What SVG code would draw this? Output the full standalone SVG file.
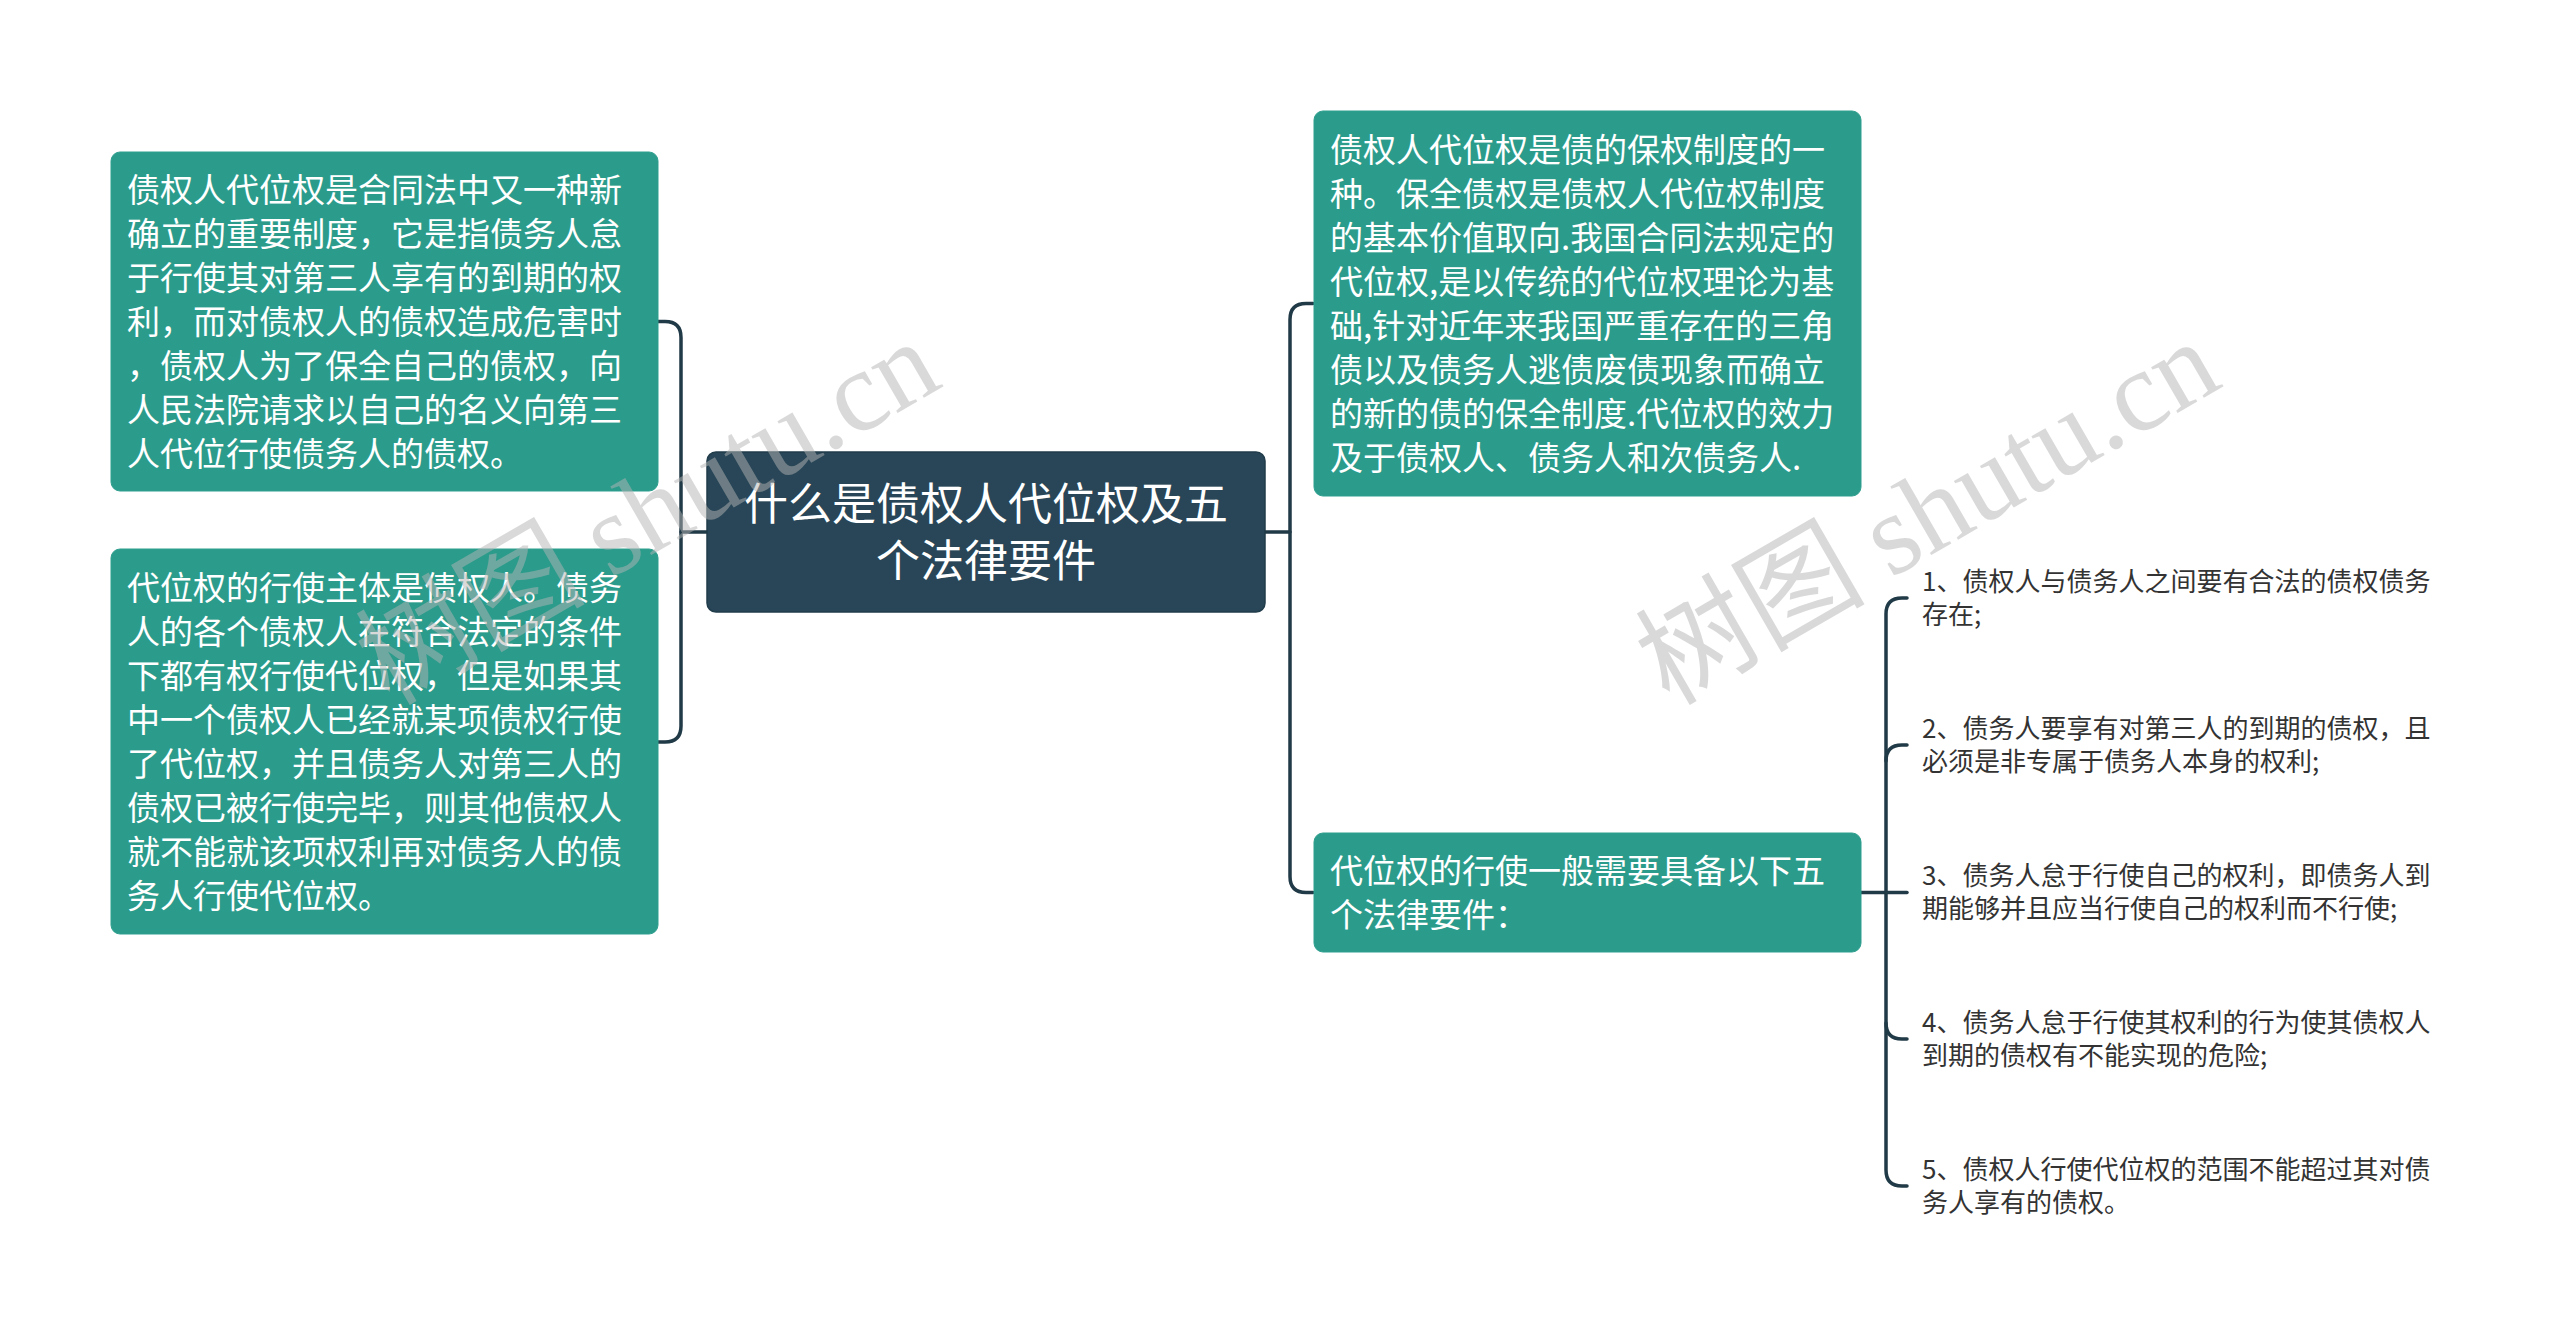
<svg xmlns="http://www.w3.org/2000/svg" width="2560" height="1343" viewBox="0 0 2560 1343">
<style>
.bg{fill:#ffffff}
.green{fill:#2b9c8c;stroke:#2f9f8f;stroke-width:1}
.root{fill:#284657;stroke:#213c4a;stroke-width:1.5}
.t{font-family:"Noto Sans CJK SC","Noto Sans",sans-serif;fill:#ffffff;font-size:33px}
.rt{font-family:"Noto Sans CJK SC","Noto Sans",sans-serif;fill:#ffffff;font-size:44px;text-anchor:middle}
.it{font-family:"Noto Sans CJK SC","Noto Sans",sans-serif;fill:#333333;font-size:26px}
.line{fill:none;stroke:#213a47;stroke-width:3.5;stroke-linecap:round;stroke-linejoin:round}
.wm{font-family:"Noto Sans CJK SC","Liberation Serif",serif;font-size:115px;fill:#b4b4b4;fill-opacity:0.5;text-anchor:middle}
.wm tspan.l{font-family:"Liberation Serif",serif}
</style>
<rect class="bg" x="0" y="0" width="2560" height="1343"/>

<g id="connectors">
  <path class="line" d="M707 532 H681"/>
  <path class="line" d="M658 321.5 H665 Q681 321.5 681 337.5 V726 Q681 742 665 742 H658"/>
  <path class="line" d="M1265 532 H1290"/>
  <path class="line" d="M1313 303.5 H1306 Q1290 303.5 1290 319.5 V876.5 Q1290 892.5 1306 892.5 H1313"/>
  <path class="line" d="M1861 892.5 H1886"/>
  <path class="line" d="M1907 598 H1902 Q1886 598 1886 614 V1170 Q1886 1186 1902 1186 H1907"/>
  <path class="line" d="M1886 761 Q1886 745 1902 745 H1907"/>
  <path class="line" d="M1886 892.5 H1907"/>
  <path class="line" d="M1886 1023 Q1886 1039 1902 1039 H1907"/>
</g>

<g id="root">
  <rect class="root" x="707" y="452" width="558" height="160" rx="9"/>
  <text class="rt" x="986" y="520">什么是债权人代位权及五</text>
  <text class="rt" x="986" y="577">个法律要件</text>
</g>

<g id="left1">
  <rect class="green" x="111" y="152" width="547" height="339" rx="9"/>
  <text class="t" x="127" y="202">债权人代位权是合同法中又一种新</text>
  <text class="t" x="127" y="246">确立的重要制度，它是指债务人怠</text>
  <text class="t" x="127" y="290">于行使其对第三人享有的到期的权</text>
  <text class="t" x="127" y="334">利，而对债权人的债权造成危害时</text>
  <text class="t" x="127" y="378">，债权人为了保全自己的债权，向</text>
  <text class="t" x="127" y="422">人民法院请求以自己的名义向第三</text>
  <text class="t" x="127" y="466">人代位行使债务人的债权。</text>
</g>

<g id="left2">
  <rect class="green" x="111" y="549" width="547" height="385" rx="9"/>
  <text class="t" x="127" y="600">代位权的行使主体是债权人。债务</text>
  <text class="t" x="127" y="644">人的各个债权人在符合法定的条件</text>
  <text class="t" x="127" y="688">下都有权行使代位权，但是如果其</text>
  <text class="t" x="127" y="732">中一个债权人已经就某项债权行使</text>
  <text class="t" x="127" y="776">了代位权，并且债务人对第三人的</text>
  <text class="t" x="127" y="820">债权已被行使完毕，则其他债权人</text>
  <text class="t" x="127" y="864">就不能就该项权利再对债务人的债</text>
  <text class="t" x="127" y="908">务人行使代位权。</text>
</g>

<g id="right1">
  <rect class="green" x="1314" y="111" width="547" height="385" rx="9"/>
  <text class="t" x="1330" y="162">债权人代位权是债的保权制度的一</text>
  <text class="t" x="1330" y="206">种。保全债权是债权人代位权制度</text>
  <text class="t" x="1330" y="250">的基本价值取向.我国合同法规定的</text>
  <text class="t" x="1330" y="294">代位权,是以传统的代位权理论为基</text>
  <text class="t" x="1330" y="338">础,针对近年来我国严重存在的三角</text>
  <text class="t" x="1330" y="382">债以及债务人逃债废债现象而确立</text>
  <text class="t" x="1330" y="426">的新的债的保全制度.代位权的效力</text>
  <text class="t" x="1330" y="470">及于债权人、债务人和次债务人.</text>
</g>

<g id="right2">
  <rect class="green" x="1314" y="833" width="547" height="119" rx="9"/>
  <text class="t" x="1330" y="883">代位权的行使一般需要具备以下五</text>
  <text class="t" x="1330" y="927">个法律要件：</text>
</g>

<g id="item1">
  <text class="it" x="1922" y="591">1、债权人与债务人之间要有合法的债权债务</text>
  <text class="it" x="1922" y="624">存在;</text>
</g>
<g id="item2">
  <text class="it" x="1922" y="738">2、债务人要享有对第三人的到期的债权，且</text>
  <text class="it" x="1922" y="771">必须是非专属于债务人本身的权利;</text>
</g>
<g id="item3">
  <text class="it" x="1922" y="885">3、债务人怠于行使自己的权利，即债务人到</text>
  <text class="it" x="1922" y="918">期能够并且应当行使自己的权利而不行使;</text>
</g>
<g id="item4">
  <text class="it" x="1922" y="1032">4、债务人怠于行使其权利的行为使其债权人</text>
  <text class="it" x="1922" y="1065">到期的债权有不能实现的危险;</text>
</g>
<g id="item5">
  <text class="it" x="1922" y="1179">5、债权人行使代位权的范围不能超过其对债</text>
  <text class="it" x="1922" y="1212">务人享有的债权。</text>
</g>

<g id="watermark">
  <text class="wm" transform="translate(667 546) rotate(-30)">树图 <tspan class="l">shutu.cn</tspan></text>
  <text class="wm" transform="translate(1947 546) rotate(-30)">树图 <tspan class="l">shutu.cn</tspan></text>
</g>
</svg>
